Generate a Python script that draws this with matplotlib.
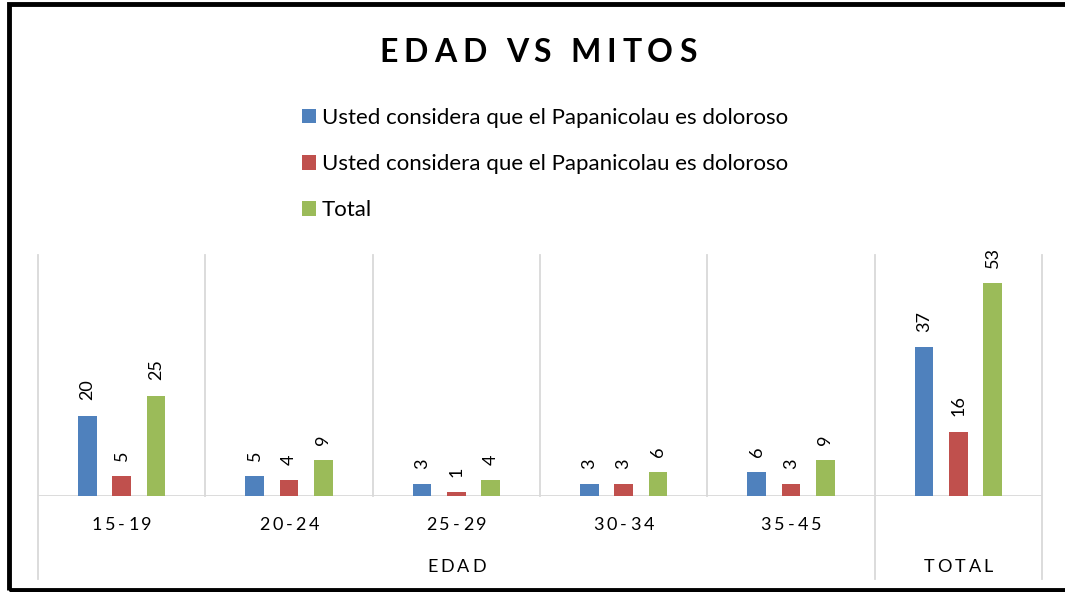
import numpy as np
import matplotlib
matplotlib.use("Agg")
import matplotlib.pyplot as plt
from matplotlib.patches import Rectangle

categories = ["15-19", "20-24", "25-29", "30-34", "35-45", "TOTAL"]
groups = ["EDAD", "TOTAL"]
group_sizes = [5, 1]
series_names = ["Usted considera que el Papanicolau es doloroso",
                "Usted considera que el Papanicolau es doloroso",
                "Total"]
serie_1 = [20, 5, 3, 3, 6, 37]
serie_2 = [5, 4, 1, 3, 3, 16]
total = [25, 9, 4, 6, 9, 53]
colors = ["#4F81BD", "#C0504D", "#9BBB59"]

W, H = 1065, 592
GRID = "#d9d9d9"
plt.rcParams['font.family'] = ['Lato', 'DejaVu Sans']

fig = plt.figure(figsize=(W / 100, H / 100), dpi=100)
renderer = fig.canvas.get_renderer()
to_fig = fig.transFigure.inverted()


def text_width(s, **kw):
    t = fig.text(0, 0, s, **kw)
    w = t.get_window_extent(renderer).width
    t.remove()
    return w


def tracked(xc, yb, s, track, **kw):
    # matplotlib has no letter spacing, so place the letters one by one
    # xc, yb: centre x and baseline y in display pixels (y from the bottom)
    wx = text_width("X", **kw)
    lefts = [text_width(s[:i] + "X", **kw) - wx for i in range(len(s))]
    total_w = text_width(s, **kw) + track * (len(s) - 1)
    x0 = xc - total_w / 2
    for i, ch in enumerate(s):
        if ch == " ":
            continue
        fx, fy = to_fig.transform((x0 + lefts[i] + track * i, yb))
        fig.text(fx, fy, ch, ha='left', va='baseline', **kw)


ax = fig.add_axes([38 / W, 1 - 496 / H, (1042 - 38) / W, (496 - 255) / H])

x = np.arange(len(categories))
offsets = [-0.205, 0, 0.205]
bars = []
for vals, off, col, name in zip([serie_1, serie_2, total], offsets, colors, series_names):
    b = ax.bar(x + off, vals, width=0.11, color=col, label=name, zorder=3)
    bars.append(b)
    for rect, v in zip(b, vals):
        ax.annotate(str(v), (rect.get_x() + rect.get_width() / 2, v),
                    xytext=(0, 11), textcoords='offset points', rotation=90,
                    ha='center', va='bottom', fontsize=13, color='black')

ax.set_xlim(-0.5, len(categories) - 0.5)
ax.set_ylim(0, 60)
ax.set_xticks([])
ax.set_yticks([])
for s in ax.spines.values():
    s.set_visible(False)

trans = ax.get_xaxis_transform()
ax.axhline(0, color=GRID, lw=1.3, zorder=2)

# category separators, the group ones run down past the labels
group_edges = set(np.cumsum([0] + group_sizes) - 0.5)
low = (496 - 579) / (496 - 255)
for b in np.arange(-0.5, len(categories)):
    y0 = low if b in group_edges else 0
    ax.plot([b, b], [y0, 1], color=GRID, lw=1.3, transform=trans, clip_on=False, zorder=1)

for i, c in enumerate(categories[:group_sizes[0]]):
    xc = ax.transData.transform((i, 0))[0]
    tracked(xc, H - 530, c, 3.0, fontsize=13, color='black')

start = 0
for g, n in zip(groups, group_sizes):
    xc = ax.transData.transform((start + (n - 1) / 2, 0))[0]
    tracked(xc, H - 571.7, g, 3.0, fontsize=13, color='black')
    start += n

tracked(538, H - 61.7, "EDAD VS MITOS", 5.8, fontsize=23, fontweight='bold', color='black')

fig.legend(handles=bars, labels=series_names, loc='upper left',
           bbox_to_anchor=(302 / W, 1 - 108 / H), frameon=False, fontsize=16,
           handlelength=0.63, handleheight=0.63, handletextpad=0.27,
           labelspacing=1.18, borderpad=0, borderaxespad=0)

fig.add_artist(Rectangle((8.5 / W, 1 - 589.5 / H), (1080 - 8.5) / W, (589.5 - 3.5) / H,
                         transform=fig.transFigure, fill=False, edgecolor='black', lw=3.5))

fig.savefig("out.png", dpi=100)
